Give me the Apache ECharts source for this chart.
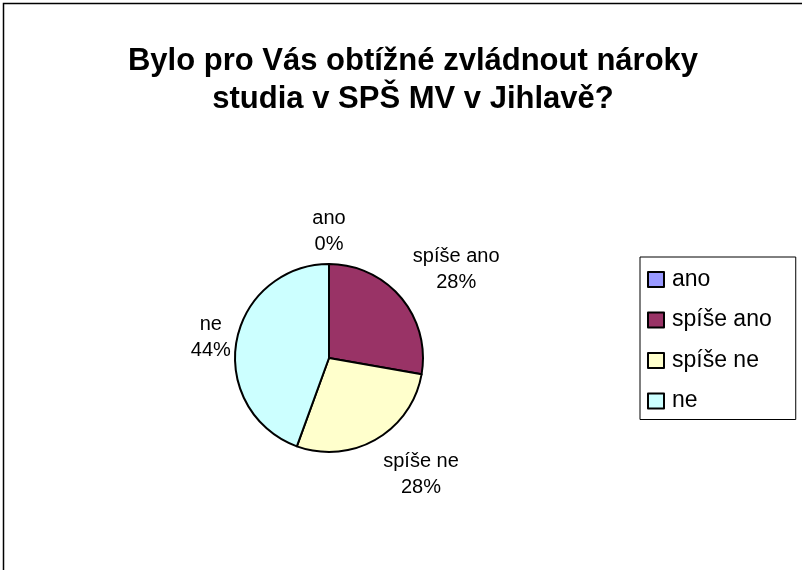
<!DOCTYPE html>
<html><head><meta charset="utf-8">
<script src="https://cdn.jsdelivr.net/npm/echarts@6/dist/echarts.min.js"></script>
<style>html,body{margin:0;padding:0;background:#fff}#c{width:802px;height:570px}</style>
</head><body><div id="c"></div>
<script>
const categories = ['ano', 'spíše ano', 'spíše ne', 'ne'];
const values = [0, 5, 5, 8];
const colors = ['#9999FF', '#993366', '#FFFFCC', '#CCFFFF'];
const titleText = 'Bylo pro Vás obtížné zvládnout nároky\nstudia v SPŠ MV v Jihlavě?';

const chart = echarts.init(document.getElementById('c'), null, {renderer: 'canvas'});
const total = values.reduce((a, b) => a + b, 0);
const cx = 329, cy = 358, R = 94;
// label offsets (x-distance, y-distance) along each slice's mid-angle
const labelDist = [[0, 127], [166, 137], [184, 134], [120, 121]];
const FONT = 'Liberation Sans, Arial, sans-serif';
chart.setOption({
  animation: false,
  backgroundColor: '#fff',
  textStyle: {fontFamily: FONT},
  graphic: [{type: 'rect', shape: {x: 3.5, y: 3.5, width: 900, height: 700}, style: {fill: 'none', stroke: '#000', lineWidth: 1.5}, z: -1}],
  title: {
    text: titleText, left: 408, top: 37, textAlign: 'center', padding: 5,
    textStyle: {fontSize: 31, fontWeight: 'bold', color: '#000', lineHeight: 38, fontFamily: FONT}
  },
  legend: {
    orient: 'vertical', left: 640, top: 257,
    padding: [11, 24, 7, 7], borderColor: '#000', borderWidth: 1,
    itemWidth: 16, itemHeight: 15, itemGap: 17.5,
    icon: 'rect',
    itemStyle: {borderColor: '#000', borderWidth: 2},
    textStyle: {fontSize: 23, color: '#000', padding: [0, 0, 0, 3], fontFamily: FONT},
    data: categories
  },
  series: [{
    type: 'pie', center: [cx, cy], radius: R, startAngle: 90, clockwise: true,
    avoidLabelOverlap: false, stillShowZeroSum: true,
    itemStyle: {borderColor: '#000', borderWidth: 2},
    emphasis: {disabled: true},
    label: {
      show: true, position: 'outside', color: '#000', fontSize: 20, lineHeight: 26, align: 'center',
      fontFamily: FONT,
      formatter: p => p.name + '\n' + Math.round(p.value / total * 100) + '%'
    },
    labelLine: {show: false},
    labelLayout: function (p) {
      const idx = p.dataIndex;
      let before = 0;
      for (let i = 0; i < idx; i++) before += values[i];
      const mid = (before + values[idx] / 2) / total * 2 * Math.PI;
      const d = labelDist[idx];
      return {x: cx + Math.sin(mid) * d[0], y: cy - Math.cos(mid) * d[1], align: 'center', verticalAlign: 'middle'};
    },
    data: categories.map((n, i) => ({name: n, value: values[i], itemStyle: {color: colors[i]}}))
  }]
});
</script></body></html>
